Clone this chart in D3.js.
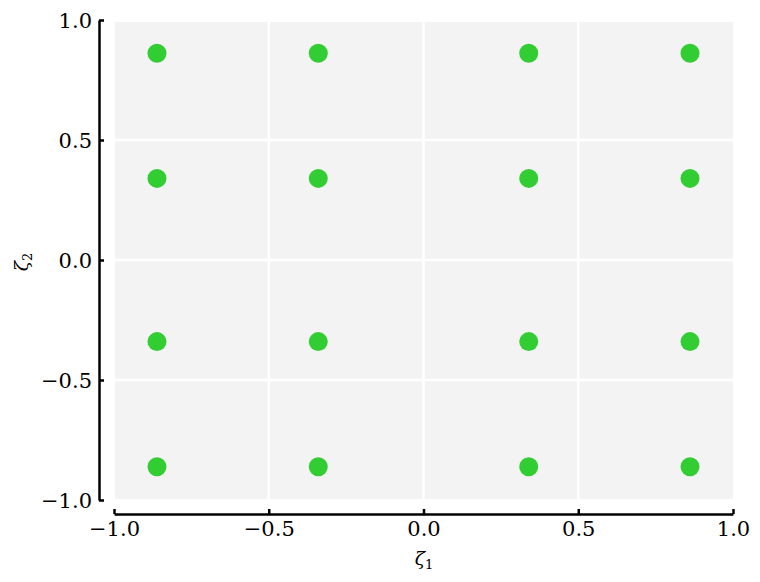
<!DOCTYPE html>
<html><head><meta charset="utf-8">
<script src="https://cdn.jsdelivr.net/npm/d3@7"></script>
<style>body{margin:0;background:#fff}svg{display:block}text{font-family:"DejaVu Serif",serif}</style>
</head><body>
<svg id="c" width="760" height="582"></svg>
<script>
const xNodes = [-0.8611, -0.3400, 0.3400, 0.8611];
const yNodes = [-0.8611, -0.3400, 0.3400, 0.8611];
const xTicks = [-1.0, -0.5, 0.0, 0.5, 1.0];
const yTicks = [-1.0, -0.5, 0.0, 0.5, 1.0];
const pointColor = "#32cd32";

const svg = d3.select("#c");
const x = d3.scaleLinear().domain([-1, 1]).range([114, 733]);
const y = d3.scaleLinear().domain([-1, 1]).range([500, 20]);
const fmt = d => (d < 0 ? "\u2212" : "") + Math.abs(d).toFixed(1);

// panel background
svg.append("rect").attr("x", 115).attr("y", 22).attr("width", 618).attr("height", 477).attr("fill", "#f3f3f3");
// grid
svg.append("g").selectAll("line").data(xTicks.slice(1, -1)).join("line")
  .attr("x1", d => x(d)).attr("x2", d => x(d)).attr("y1", 22).attr("y2", 499)
  .attr("stroke", "#fff").attr("stroke-width", 2.5);
svg.append("g").selectAll("line").data(yTicks.slice(1, -1)).join("line")
  .attr("y1", d => y(d)).attr("y2", d => y(d)).attr("x1", 115).attr("x2", 733)
  .attr("stroke", "#fff").attr("stroke-width", 2.5);

// points
const pts = [];
yNodes.forEach(yv => xNodes.forEach(xv => pts.push([xv, yv])));
svg.append("g").selectAll("circle").data(pts).join("circle")
  .attr("cx", d => x(d[0])).attr("cy", d => y(d[1])).attr("r", 9.5).attr("fill", pointColor);

// x axis
const xa = svg.append("g").attr("transform", "translate(0,514)")
  .call(d3.axisTop(x).tickValues(xTicks).tickFormat(fmt).tickSizeInner(5).tickSizeOuter(0));
xa.select(".domain").attr("stroke", "#000").attr("stroke-width", 2.5);
xa.selectAll(".tick line").attr("stroke", "#000").attr("stroke-width", 2.5);
xa.selectAll(".tick text").attr("y", 22).attr("dy", 0).attr("font-size", 21).attr("fill", "#000")
  .attr("font-family", "DejaVu Serif");

// y axis
const ya = svg.append("g").attr("transform", "translate(99,0)")
  .call(d3.axisRight(y).tickValues(yTicks).tickFormat(fmt).tickSizeInner(5).tickSizeOuter(0));
ya.select(".domain").attr("stroke", "#000").attr("stroke-width", 2.5);
ya.selectAll(".tick line").attr("stroke", "#000").attr("stroke-width", 2.5);
ya.selectAll(".tick text").attr("x", -7).attr("dy", "0.35em").attr("text-anchor", "end")
  .attr("font-size", 21).attr("fill", "#000").attr("font-family", "DejaVu Serif");

// axis labels
const xl = svg.append("text").attr("x", 424).attr("y", 565).attr("text-anchor", "middle").attr("font-size", 19);
xl.append("tspan").text("ζ").attr("font-style", "italic");
xl.append("tspan").text("1").attr("font-size", 13).attr("dy", 4);
const yl = svg.append("text").attr("transform", "translate(28,262) rotate(-90)").attr("text-anchor", "middle").attr("font-size", 19);
yl.append("tspan").text("ζ").attr("font-style", "italic");
yl.append("tspan").text("2").attr("font-size", 13).attr("dy", 4);
</script>
</body></html>
